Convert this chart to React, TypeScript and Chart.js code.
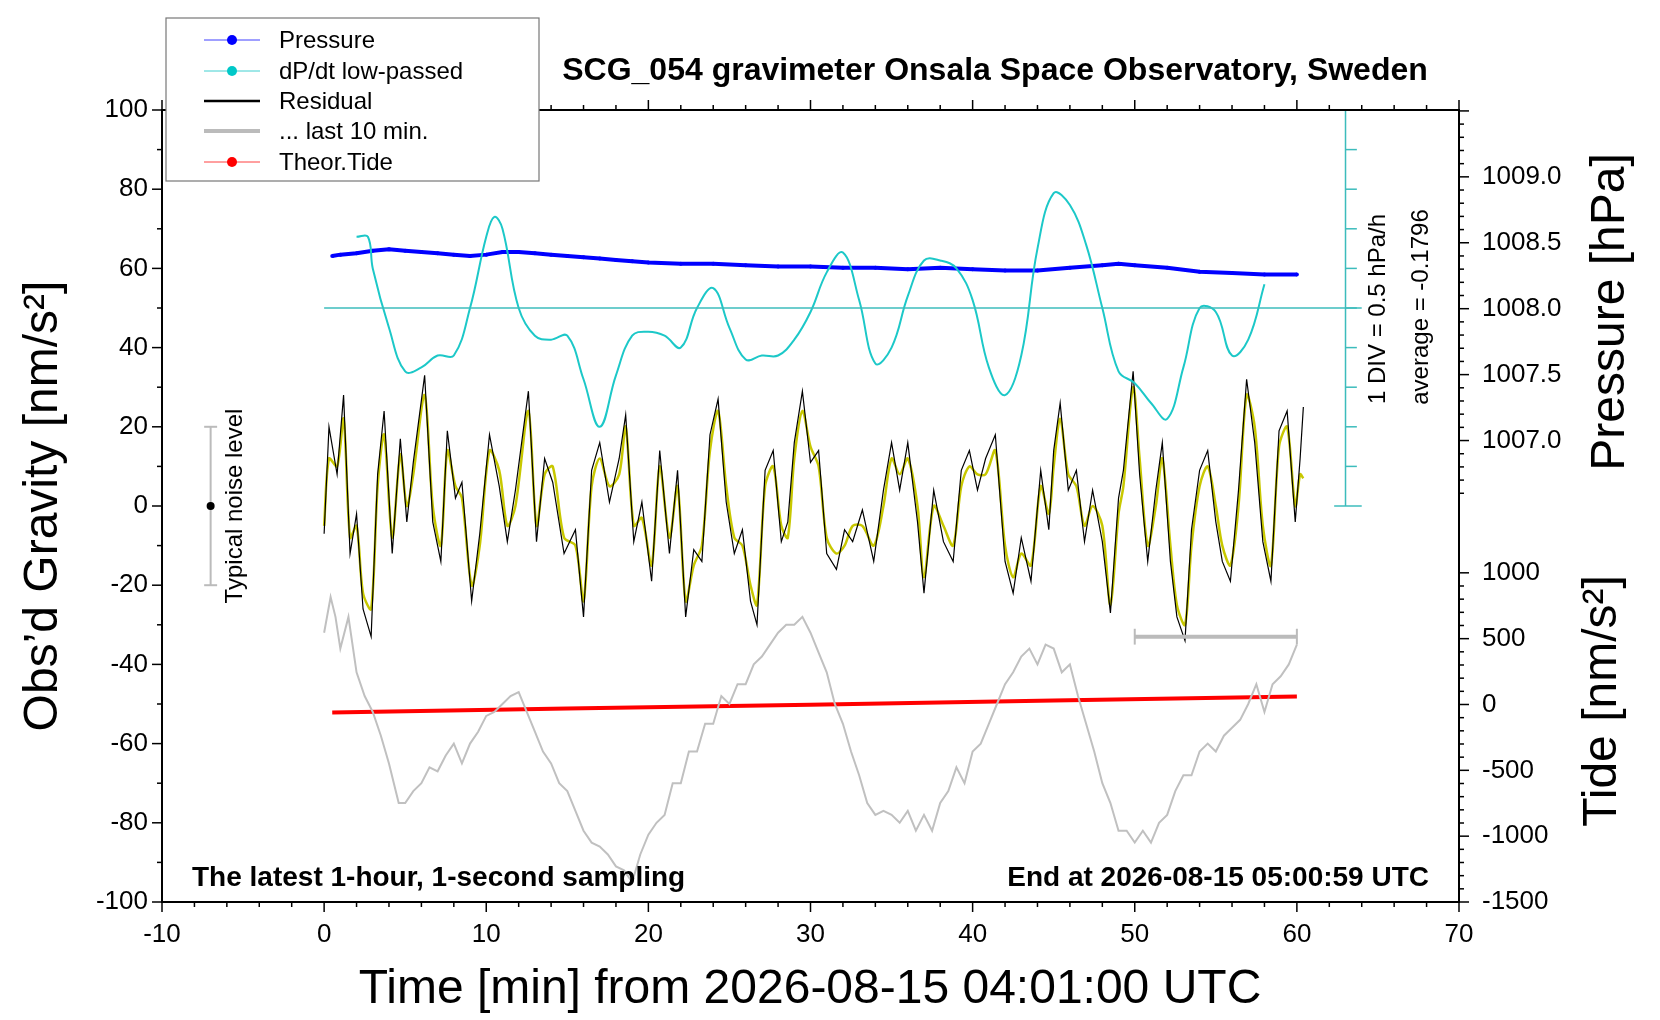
import React, { useEffect, useRef } from "react";
import { Chart, registerables } from "chart.js";
Chart.register(...registerables);

const resX = [0,0.3,0.8,1.2,1.6,2.0,2.4,2.9,3.3,3.7,4.2,4.7,5.1,5.5,6.2,6.7,7.2,7.6,8.1,8.5,9.1,9.6,10.2,10.8,11.3,11.8,12.6,13.1,13.6,14.1,14.8,15.5,16.0,16.5,17.0,17.6,18.2,18.6,19.1,19.6,20.2,20.7,21.3,21.8,22.3,22.8,23.3,23.8,24.3,24.8,25.3,25.8,26.3,26.7,27.2,27.7,28.2,28.6,29.0,29.5,30.0,30.5,31.0,31.6,32.1,32.6,33.2,33.9,34.5,35.0,35.5,36.0,36.6,37.0,37.6,38.2,38.8,39.3,39.8,40.3,40.8,41.4,42.0,42.5,43.0,43.6,44.2,44.7,45.0,45.4,45.9,46.4,46.9,47.4,48.0,48.5,49.0,49.3,49.9,50.3,50.8,51.3,51.7,52.2,52.6,53.1,53.5,54.0,54.5,55.0,55.4,55.9,56.4,56.9,57.4,57.9,58.4,58.9,59.4,59.9,60.2,60.4];
const smoothVals = [-5,12,10,22,-8,-5,-22,-26,5,18,-8,13,0,8,28,0,-10,14,5,2,-20,-10,14,9,-5,0,24,-5,8,10,-8,-10,-24,5,12,5,8,20,-5,-3,-15,10,-8,5,-24,-15,-10,14,24,5,-8,-10,-20,-25,5,10,-5,-8,12,24,15,10,-8,-12,-10,-5,-5,-10,0,12,8,12,0,-18,0,-5,-10,5,10,8,8,14,-10,-18,-12,-15,5,-2,10,22,8,5,-5,0,-5,-25,-2,5,30,12,-10,0,12,-10,-25,-30,-10,5,10,0,-10,-15,0,28,20,-5,-15,15,20,0,8,7];
const blackVals = [-7,20,8,28,-12,-2,-26,-33,8,24,-12,17,-4,11,33,-4,-14,19,2,6,-24,-7,18,5,-9,4,29,-9,12,6,-12,-6,-28,9,16,1,12,23,-9,1,-19,14,-12,9,-28,-11,-14,18,27,1,-12,-6,-24,-30,9,14,-9,-4,16,29,11,14,-12,-16,-6,-9,-1,-14,4,16,4,16,-4,-22,4,-9,-14,9,14,4,12,18,-14,-22,-8,-19,9,-6,14,26,4,9,-9,4,-9,-27,2,9,34,8,-14,4,16,-14,-28,-34,-6,9,14,-4,-14,-19,4,32,16,-9,-19,19,24,-4,12,25];
const grayX = [0,0.4,0.7,1,1.5,2,2.5,3,3.5,4,4.6,5,5.5,6,6.5,7,7.5,8,8.5,9,9.5,10,10.5,11,11.5,12,12.5,13,13.5,14,14.5,15,15.5,16,16.5,17,17.5,18,18.5,19,19.5,20,20.5,21,21.5,22,22.5,23,23.5,24,24.5,25,25.5,26,26.5,27,27.5,28,28.5,29,29.5,30,30.5,31,31.5,32,32.5,33,33.5,34,34.5,35,35.5,36,36.5,37,37.5,38,38.5,39,39.5,40,40.5,41,41.5,42,42.5,43,43.5,44,44.5,45,45.5,46,46.5,47,47.5,48,48.5,49,49.5,50,50.5,51,51.5,52,52.5,53,53.5,54,54.5,55,55.5,56,56.5,57,57.5,58,58.5,59,59.5,60];
const grayVals = [-32,-23,-28,-36,-28,-42,-48,-52,-58,-65,-75,-75,-72,-70,-66,-67,-63,-60,-65,-60,-57,-53,-52,-50,-48,-47,-52,-57,-62,-65,-70,-72,-77,-82,-85,-86,-88,-91,-92,-95,-88,-83,-80,-78,-70,-70,-62,-62,-55,-55,-48,-50,-45,-45,-40,-38,-35,-32,-30,-30,-28,-32,-37,-42,-50,-55,-62,-68,-75,-78,-77,-78,-80,-77,-82,-78,-82,-75,-72,-66,-70,-62,-60,-55,-50,-45,-42,-38,-36,-40,-35,-36,-42,-40,-48,-55,-62,-70,-75,-82,-82,-85,-82,-85,-80,-78,-72,-68,-68,-62,-60,-62,-58,-56,-54,-50,-45,-52,-45,-43,-40,-35];
const dpX = [2,2.7,3,4,5,6,7,8,9,10,10.5,11,12,13,14,15,16,17,18,19,20,21,22,23,24,25,26,27,28,29,30,31,32,33,34,35,36,37,38,39,40,41,42,43,44,45,46,47,48,49,50,51,52,53,54,55,56,57,58];
const dpVals = [68,68,60,45,34,35,38,38,50,68,73,70,50,43,42,43,32,20,33,43,44,43,40,50,55,45,37,38,38,42,49,59,64,52,36,40,53,62,62,60,52,35,28,38,65,79,76,66,50,34,31,26,22,35,50,49,38,42,56];
const presX = [0.5,1,2,3,4,5,6,7,8,9,10,11,12,13,14,15,16,17,18,19,20,22,24,26,28,30,32,34,36,38,40,42,44,46,48,49,50,52,54,56,58,60];
const presVals = [1008.40,1008.41,1008.42,1008.44,1008.45,1008.44,1008.43,1008.42,1008.41,1008.40,1008.41,1008.43,1008.43,1008.42,1008.41,1008.40,1008.39,1008.38,1008.37,1008.36,1008.35,1008.34,1008.34,1008.33,1008.32,1008.32,1008.31,1008.31,1008.30,1008.31,1008.30,1008.29,1008.29,1008.31,1008.33,1008.34,1008.33,1008.31,1008.28,1008.27,1008.26,1008.26];
const tideX = [0.5,15,30,45,60];
const tideVals = [-61,-31,-1,30,60];
const xTicks = [-10,0,10,20,30,40,50,60,70];
const gravTicks = [-100,-80,-60,-40,-20,0,20,40,60,80,100];
const presTicks = [1007.0,1007.5,1008.0,1008.5,1009.0];
const tideTicks = [-1500,-1000,-500,0,500,1000];

const FONT = "'Liberation Sans', Arial, sans-serif";
const pts = (xs: number[], ys: number[]) => xs.map((x, i) => ({ x, y: ys[i] }));

const deco = {
  id: "deco",
  afterDraw(chart: any) {
    const c = chart.ctx, a = chart.chartArea, s = chart.scales;
    const X = (v: number) => s.x.getPixelForValue(v);
    const Y = (v: number) => s.y.getPixelForValue(v);
    const P = (v: number) => s.p.getPixelForValue(v);
    const T = (v: number) => s.t.getPixelForValue(v);
    c.save();
    const line = (x1: number, y1: number, x2: number, y2: number) => { c.beginPath(); c.moveTo(x1, y1); c.lineTo(x2, y2); c.stroke(); };
    c.strokeStyle = "#3cbcbc"; c.lineWidth = 1.5;
    line(X(0), Y(50), X(64), Y(50));
    line(X(63), Y(100), X(63), Y(0));
    line(X(62.3), Y(100), X(64), Y(100));
    line(X(62.3), Y(0), X(64), Y(0));
    for (let v = 10; v < 100; v += 10) line(X(63), Y(v), X(63.7), Y(v));
    c.strokeStyle = "#bbbbbb"; c.lineWidth = 2;
    line(X(-7), Y(20), X(-7), Y(-20));
    line(X(-7.4), Y(20), X(-6.6), Y(20));
    line(X(-7.4), Y(-20), X(-6.6), Y(-20));
    c.fillStyle = "#000"; c.beginPath(); c.arc(X(-7), Y(0), 4, 0, Math.PI * 2); c.fill();
    c.strokeStyle = "#bbbbbb"; c.lineWidth = 4;
    line(X(50), Y(-33), X(60), Y(-33));
    c.lineWidth = 2;
    line(X(50), Y(-31), X(50), Y(-35));
    line(X(60), Y(-31), X(60), Y(-35));
    c.strokeStyle = "#000"; c.lineWidth = 2;
    c.strokeRect(a.left, a.top, a.right - a.left, a.bottom - a.top);
    c.lineWidth = 1.5;
    for (let v = -10; v <= 70; v += 2) {
      const L = v % 10 === 0 ? 10 : 5;
      line(X(v), a.bottom, X(v), a.bottom + L);
      line(X(v), a.top, X(v), a.top - L);
    }
    for (let v = -100; v <= 100; v += 10) {
      const L = v % 20 === 0 ? 10 : 5;
      line(a.left, Y(v), a.left - L, Y(v));
    }
    for (let v = 10066; v <= 10095; v += 1) {
      const L = v % 5 === 0 ? 10 : 5;
      line(a.right, P(v / 10), a.right + L, P(v / 10));
    }
    for (let v = -1500; v <= 1000; v += 100) {
      const L = v % 500 === 0 ? 10 : 5;
      line(a.right, T(v), a.right + L, T(v));
    }
    c.fillStyle = "#000"; c.font = `26px ${FONT}`;
    c.textAlign = "center"; c.textBaseline = "middle";
    xTicks.forEach(v => c.fillText(String(v), X(v), a.bottom + 33));
    c.textAlign = "right";
    gravTicks.forEach(v => c.fillText(String(v), a.left - 14, Y(v)));
    c.textAlign = "left";
    presTicks.forEach(v => c.fillText(v.toFixed(1), a.right + 23, P(v)));
    tideTicks.forEach(v => c.fillText(String(v), a.right + 23, T(v)));
    c.textAlign = "center";
    c.font = `48px ${FONT}`;
    c.fillText("Time [min] from 2026-08-15 04:01:00 UTC", 810, 990);
    const rot = (txt: string, x: number, y: number, font: string) => {
      c.save(); c.translate(x, y); c.rotate(-Math.PI / 2); c.font = font; c.textAlign = "center"; c.textBaseline = "middle"; c.fillText(txt, 0, 0); c.restore();
    };
    rot("Obs\u2019d Gravity [nm/s\u00B2]", 44, 506, `48px ${FONT}`);
    rot("Pressure [hPa]", 1611, 312, `48px ${FONT}`);
    rot("Tide [nm/s\u00B2]", 1603, 701, `48px ${FONT}`);
    rot("Typical noise level", X(-5.5), Y(0), `24px ${FONT}`);
    rot("1 DIV = 0.5 hPa/h", 1378, 309, `24px ${FONT}`);
    rot("average = -0.1796", 1421, 307, `24px ${FONT}`);
    c.font = `bold 32px ${FONT}`; c.textAlign = "center";
    c.fillText("SCG_054 gravimeter Onsala Space Observatory, Sweden", 995, 71);
    c.font = `bold 28px ${FONT}`; c.textAlign = "left";
    c.fillText("The latest 1-hour, 1-second sampling", 192, 878);
    c.textAlign = "right";
    c.fillText("End at 2026-08-15 05:00:59 UTC", 1429, 878);
    c.fillStyle = "#fff"; c.fillRect(166, 18, 373, 163);
    c.strokeStyle = "#777"; c.lineWidth = 1.2; c.strokeRect(166, 18, 373, 163);
    const items = [
      ["Pressure", "#4040ff", "#0000ff", 1, true],
      ["dP/dt low-passed", "#40d0d0", "#00c8c8", 1, true],
      ["Residual", "#000", "#000", 2.5, false],
      ["... last 10 min.", "#bbbbbb", "#bbb", 4, false],
      ["Theor.Tide", "#ff4040", "#ff0000", 1, true],
    ] as any[];
    const ys = [40, 71, 101, 131, 162];
    c.font = `24px ${FONT}`; c.textAlign = "left"; c.textBaseline = "middle";
    items.forEach((it, i) => {
      c.strokeStyle = it[1]; c.lineWidth = it[3];
      line(204, ys[i], 260, ys[i]);
      if (it[4]) { c.fillStyle = it[2]; c.beginPath(); c.arc(232, ys[i], 5, 0, Math.PI * 2); c.fill(); }
      c.fillStyle = "#000"; c.fillText(it[0], 279, ys[i] + 1);
    });
    c.restore();
  },
};

export default function App() {
  const ref = useRef<HTMLCanvasElement>(null);
  useEffect(() => {
    const chart = new Chart(ref.current!, {
      type: "scatter",
      data: {
        datasets: [
          { data: pts(grayX, grayVals), showLine: true, borderColor: "#c0c0c0", borderWidth: 2, pointRadius: 0, yAxisID: "y" },
          { data: pts(tideX, tideVals), showLine: true, borderColor: "#ff0000", borderWidth: 4, pointRadius: 0, yAxisID: "t" },
          { data: pts(dpX, dpVals), showLine: true, borderColor: "#1cc8c8", borderWidth: 2, pointRadius: 0, tension: 0.4, yAxisID: "y" },
          { data: pts(presX, presVals), showLine: true, borderColor: "#0000ff", borderWidth: 4, pointRadius: 2, pointBackgroundColor: "#0000ff", pointBorderWidth: 0, yAxisID: "p" },
          { data: pts(resX, blackVals), showLine: true, borderColor: "#000", borderWidth: 1.2, pointRadius: 0, yAxisID: "y" },
          { data: pts(resX, smoothVals), showLine: true, borderColor: "#c8c800", borderWidth: 2.5, pointRadius: 0, tension: 0.3, yAxisID: "y" },
        ],
      },
      options: {
        animation: false, responsive: false, devicePixelRatio: 1,
        layout: { padding: { left: 162, top: 110, right: 201, bottom: 118 } },
        plugins: { legend: { display: false }, tooltip: { enabled: false } },
        scales: {
          x: { type: "linear", min: -10, max: 70, display: false },
          y: { type: "linear", min: -100, max: 100, display: false },
          p: { type: "linear", min: 1003.5, max: 1009.507, display: false },
          t: { type: "linear", min: -1500, max: 4515, display: false },
        },
      },
      plugins: [deco],
    } as any);
    return () => chart.destroy();
  }, []);
  return (
    <div style={{ position: "absolute", left: 0, top: 0, width: 1660, height: 1020, background: "#fff" }}>
      <canvas ref={ref} width={1660} height={1020} />
    </div>
  );
}
